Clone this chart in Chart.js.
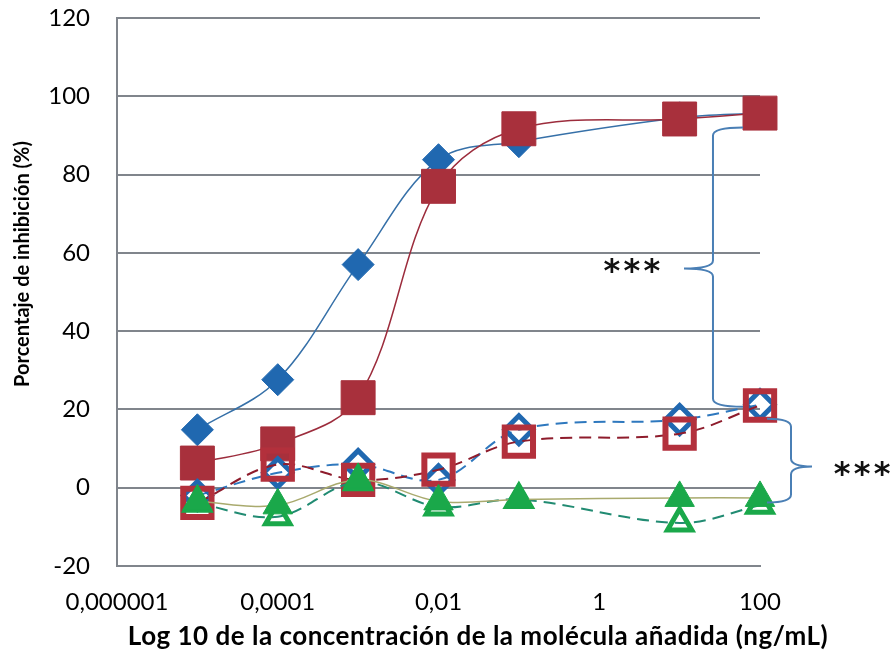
<!DOCTYPE html>
<html>
<head>
<meta charset="utf-8">
<script src="https://cdn.jsdelivr.net/npm/chart.js@4.4.1/dist/chart.umd.min.js"></script>
<style>
  html, body { margin: 0; padding: 0; background: #fff; }
  #wrap { width: 892px; height: 655px; }
</style>
</head>
<body>
<div id="wrap"><canvas id="chart" width="892" height="655"></canvas></div>
<script>
// ── Data ─────────────────────────────────────────────────────────────────
const concentrations = [0.00001, 0.0001, 0.001, 0.01, 0.1, 10, 100];

const blueFilled  = [14.8, 27.6, 57.0, 83.8, 88.4, 94.5, 95.7];
const redFilled   = [6.3, 11.2, 23.0, 77.0, 91.7, 94.2, 95.7];
const blueOpen    = [-2.0, 3.8, 5.9, 2.0, 14.8, 17.4, 21.2];
const redOpen     = [-3.9, 5.9, 2.0, 4.6, 11.8, 13.8, 21.0];
const greenOpen   = [-4.0, -7.4, 1.5, -4.9, -3.0, -9.0, -4.5];
const greenFilled = [-3.5, -4.5, 2.0, -3.5, -3.0, -2.6, -2.6];

const xTickValues = [0.000001, 0.0001, 0.01, 1, 100];
const xTickLabels = ["0,000001", "0,0001", "0,01", "1", "100"];

const yTitle = "Porcentaje de inhibición (%)";
const xTitle = "Log 10 de la concentración de la molécula añadida (ng/mL)";
const stars = "***";

const GRID = "#80858c";
const BRACE = "#4a7fb5";
const FONT = "Lato, 'Open Sans', sans-serif";

function toPoints(values) {
  return concentrations.map((x, i) => ({ x, y: values[i] }));
}

// ── Titles and significance braces ───────────────────────────────────────
function drawBrace(ctx, x0, yTop, yTip, yBot, h, hookLen, tipLen) {
  const r = 8;
  ctx.beginPath();
  ctx.moveTo(x0 + h * hookLen, yTop);
  ctx.quadraticCurveTo(x0, yTop, x0, yTop + r);
  ctx.lineTo(x0, yTip - r);
  ctx.quadraticCurveTo(x0, yTip, x0 - h * tipLen, yTip);
  ctx.quadraticCurveTo(x0, yTip, x0, yTip + r);
  ctx.lineTo(x0, yBot - r);
  ctx.quadraticCurveTo(x0, yBot, x0 + h * hookLen, yBot);
  ctx.stroke();
}

function drawStars(ctx, cx, cy) {
  ctx.font = "bold 32px 'DejaVu Sans', sans-serif";
  ctx.textAlign = "center";
  ctx.textBaseline = "alphabetic";
  ctx.fillStyle = "#111";
  stars.split("").forEach((s, i) => ctx.fillText(s, cx + (i - 1) * 20, cy + 17));
}

const annotations = {
  id: "annotations",
  afterDraw(chart) {
    const { ctx, chartArea, scales: { x, y } } = chart;
    ctx.save();

    // axis titles
    ctx.fillStyle = "#000";
    ctx.font = "bold 20px " + FONT;
    ctx.textAlign = "center";
    ctx.textBaseline = "middle";
    ctx.save();
    ctx.translate(23, 264);
    ctx.rotate(-Math.PI / 2);
    ctx.fillText(yTitle, 0, 0);
    ctx.restore();
    ctx.font = "bold 26px " + FONT;
    ctx.letterSpacing = "0.5px";
    ctx.fillText(xTitle, 478, 637);
    ctx.letterSpacing = "0px";

    // brace between filled and open series
    ctx.strokeStyle = BRACE;
    ctx.lineWidth = 2;
    const bx = x.getPixelForValue(26);
    drawBrace(ctx, bx, y.getPixelForValue(92), y.getPixelForValue(56),
      y.getPixelForValue(20.7), 1, 30, 29);
    drawStars(ctx, bx - 81, y.getPixelForValue(56) - 5);

    // brace between open series and triangles
    const bx2 = chartArea.right + 31;
    drawBrace(ctx, bx2, y.getPixelForValue(17.6), y.getPixelForValue(5.4),
      y.getPixelForValue(-3.8), -1, 24, 21);
    drawStars(ctx, chartArea.right + 102, y.getPixelForValue(5.4));

    ctx.restore();
  }
};

// ── Chart ────────────────────────────────────────────────────────────────
const ctx = document.getElementById("chart").getContext("2d");
new Chart(ctx, {
  type: "line",
  data: {
    datasets: [
      {
        label: "Triángulo relleno",
        data: toPoints(greenFilled),
        order: 0,
        borderColor: "#a9aa6e",
        borderWidth: 1.5,
        tension: 0.35,
        pointStyle: "triangle",
        pointRadius: 17,
        pointBackgroundColor: "#1aa84a",
        pointBorderColor: "#1aa84a",
        pointBorderWidth: 1,
      },
      {
        label: "Triángulo abierto",
        data: toPoints(greenOpen),
        order: 1,
        borderColor: "#218b72",
        borderWidth: 2,
        borderDash: [12, 7],
        tension: 0.35,
        pointStyle: "triangle",
        pointRadius: 14,
        pointBackgroundColor: "rgba(255,255,255,0)",
        pointBorderColor: "#1aa84a",
        pointBorderWidth: 5,
      },
      {
        label: "Cuadrado abierto",
        data: toPoints(redOpen),
        order: 2,
        borderColor: "#8e1c2c",
        borderWidth: 2,
        borderDash: [12, 7],
        tension: 0.35,
        pointStyle: "rect",
        pointRadius: 20,
        pointBackgroundColor: "rgba(255,255,255,0)",
        pointBorderColor: "#b3303c",
        pointBorderWidth: 6,
      },
      {
        label: "Rombo abierto",
        data: toPoints(blueOpen),
        order: 3,
        borderColor: "#2e78be",
        borderWidth: 2,
        borderDash: [12, 7],
        tension: 0.35,
        pointStyle: "rectRot",
        pointRadius: 14,
        pointBackgroundColor: "rgba(255,255,255,0)",
        pointBorderColor: "#2068b0",
        pointBorderWidth: 5,
      },
      {
        label: "Cuadrado relleno",
        data: toPoints(redFilled),
        order: 4,
        borderColor: "#9c2c3c",
        borderWidth: 1.5,
        tension: 0.35,
        pointStyle: "rect",
        pointRadius: 24,
        pointBackgroundColor: "#a8303c",
        pointBorderColor: "#a8303c",
        pointBorderWidth: 1,
      },
      {
        label: "Rombo relleno",
        data: toPoints(blueFilled),
        order: 5,
        borderColor: "#3670a8",
        borderWidth: 1.5,
        tension: 0.35,
        pointStyle: "rectRot",
        pointRadius: 16,
        pointBackgroundColor: "#2068b0",
        pointBorderColor: "#2068b0",
        pointBorderWidth: 1,
      },
    ]
  },
  options: {
    responsive: false,
    animation: false,
    datasets: { line: { clip: false } },
    layout: { autoPadding: false, padding: { top: 18, right: 132, left: 0, bottom: 0 } },
    plugins: { legend: { display: false }, tooltip: { enabled: false } },
    scales: {
      x: {
        type: "logarithmic",
        min: xTickValues[0],
        max: xTickValues[xTickValues.length - 1],
        afterBuildTicks: (s) => { s.ticks = xTickValues.map((v) => ({ value: v })); },
        afterFit: (s) => { s.height = 89; s.paddingLeft = 0; s.paddingRight = 0; },
        ticks: {
          callback: (v, i) => xTickLabels[i],
          autoSkip: false,
          maxRotation: 0,
          color: "#000",
          padding: 22,
          font: { family: FONT, size: 24 },
        },
        grid: { display: false, drawTicks: false },
        border: { display: true, color: GRID, width: 2 },
      },
      y: {
        min: -20,
        max: 120,
        afterFit: (s) => { s.width = 117; s.paddingTop = 0; s.paddingBottom = 0; },
        ticks: {
          stepSize: 20,
          color: "#000",
          padding: 27,
          font: { family: FONT, size: 24 },
        },
        grid: { color: GRID, lineWidth: 2, drawTicks: false },
        border: { color: GRID, width: 2 },
      }
    }
  },
  plugins: [annotations]
});
</script>
</body>
</html>
